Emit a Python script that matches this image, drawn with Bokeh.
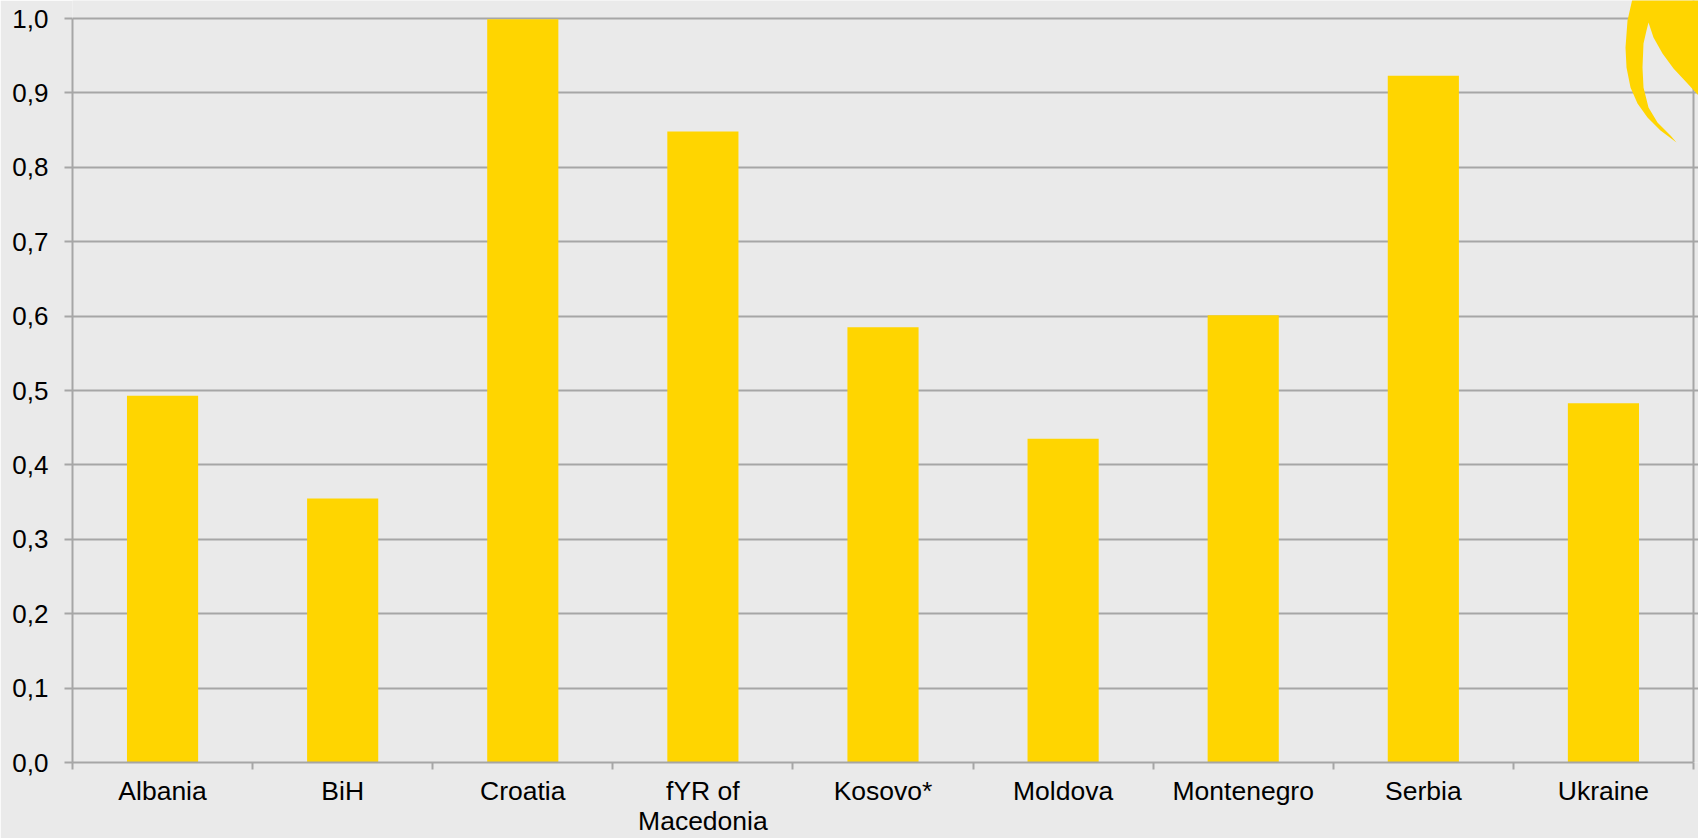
import numpy as np
from bokeh.plotting import figure
from bokeh.models import Range1d, FixedTicker, PolyAnnotation, ColumnDataSource, Span
from bokeh.embed import file_html
from bokeh.resources import INLINE

categories = ["Albania", "BiH", "Croatia", "fYR of\nMacedonia", "Kosovo*",
              "Moldova", "Montenegro", "Serbia", "Ukraine"]
values = [0.493, 0.355, 0.999, 0.848, 0.585, 0.435, 0.601, 0.923, 0.483]
y_ticks = [0.0, 0.1, 0.2, 0.3, 0.4, 0.5, 0.6, 0.7, 0.8, 0.9, 1.0]
y_tick_labels = ["0,0", "0,1", "0,2", "0,3", "0,4", "0,5", "0,6", "0,7", "0,8", "0,9", "1,0"]

W, H = 1698, 838

# decorative flame logo outline (canvas pixels, measured from the top-left)
flame_x = [1632, 1627, 1625, 1626, 1630, 1637, 1647, 1660, 1676,
           1670, 1657, 1648, 1643, 1642, 1643, 1646, 1648,
           1653, 1662, 1673, 1687, 1699, 1699, 1632]
flame_y = [-2, 20, 47, 67, 87, 103, 117, 130, 142,
           135, 122, 107, 87, 67, 43, 30, 22,
           37, 53, 68, 83, 96, -2, -2]

BG = "#EAEAEA"
BAR = "#FFD500"
GRID = "#A6A6A6"
FONT = "Liberation Sans"

n = len(categories)
centers = list(np.arange(n) + 0.5)
bounds = list(np.arange(n + 1))

# frame spans to the top/right canvas edge so the logo is not clipped
TOP_PAD = 18 / 744
RIGHT_PAD = 5 / 180

src = ColumnDataSource(dict(x=centers, top=values))

p = figure(width=W, height=H, x_range=Range1d(0, n + RIGHT_PAD), y_range=Range1d(0, 1 + TOP_PAD),
           output_backend="svg", toolbar_location=None,
           min_border_left=72, min_border_right=0, min_border_top=0, min_border_bottom=76)
p.background_fill_color = BG
p.border_fill_color = BG
p.outline_line_color = None

p.vbar(x="x", top="top", width=0.395, bottom=0, source=src, fill_color=BAR, line_color=None)

# y axis
p.yaxis.ticker = FixedTicker(ticks=y_ticks)
p.yaxis.bounds = (0, 1)
p.yaxis.major_label_overrides = {t: l for t, l in zip(y_ticks, y_tick_labels)}
p.yaxis.major_tick_out = 8
p.yaxis.major_tick_in = 0
p.yaxis.minor_tick_out = 0
p.yaxis.minor_tick_in = 0
p.yaxis.major_label_standoff = 16
p.yaxis.major_label_text_font_size = "26px"

# x axis
p.xaxis.ticker = FixedTicker(ticks=centers, minor_ticks=bounds)
p.xaxis.bounds = (0, n)
p.xaxis.major_label_overrides = {c: l for c, l in zip(centers, categories)}
p.xaxis.major_tick_out = 0
p.xaxis.major_tick_in = 0
p.xaxis.minor_tick_out = 7
p.xaxis.minor_tick_in = 0
p.xaxis.major_label_standoff = 6
p.xaxis.major_label_text_line_height = 1.0
p.xaxis.major_label_text_font_size = "26.5px"

for ax in (p.xaxis, p.yaxis):
    ax.axis_line_color = GRID
    ax.axis_line_width = 2
    ax.major_tick_line_color = GRID
    ax.major_tick_line_width = 2
    ax.minor_tick_line_color = GRID
    ax.minor_tick_line_width = 2
    ax.major_label_text_font = FONT
    ax.major_label_text_color = "#000000"

p.xgrid.visible = False
p.ygrid.ticker = FixedTicker(ticks=y_ticks)
p.ygrid.bounds = (0, n)
p.ygrid.grid_line_color = GRID
p.ygrid.grid_line_width = 2

p.add_layout(Span(location=n, dimension="height", line_color=GRID, line_width=2))
p.add_layout(PolyAnnotation(xs=flame_x, ys=flame_y, xs_units="canvas", ys_units="canvas",
                            fill_color=BAR, fill_alpha=1.0, line_color=None))

open("out.html", "w").write(file_html(p, INLINE))
